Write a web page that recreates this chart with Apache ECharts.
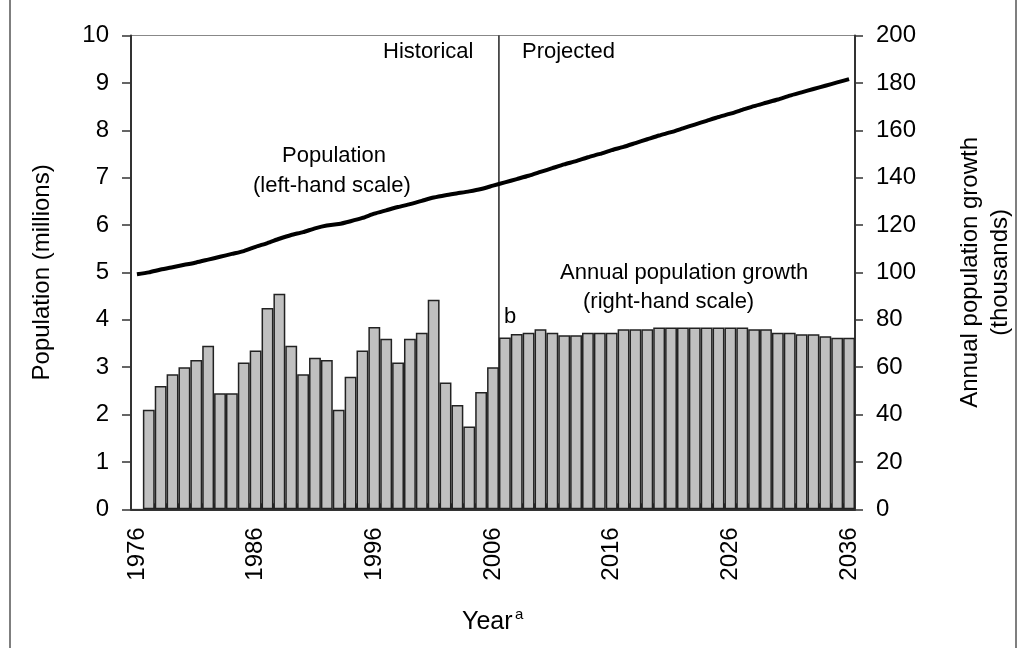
<!DOCTYPE html>
<html>
<head>
<meta charset="utf-8">
<script src="https://cdn.jsdelivr.net/npm/echarts@6/dist/echarts.min.js"></script>
<style>
html,body{margin:0;padding:0;background:#fff;}
#chart{width:1023px;height:648px;}
</style>
</head>
<body>
<div id="chart"></div>
<script>
const years = [];
for (let y = 1976; y <= 2036; y++) years.push(String(y));

const yearLabels = ['1976','1986','1996','2006','2016','2026','2036'];

// Population, millions (left-hand scale)
const population = [
  4.96, 5.00, 5.06, 5.11, 5.16, 5.21, 5.27, 5.33, 5.39, 5.45,
  5.54, 5.62, 5.71, 5.79, 5.85, 5.93, 5.99, 6.02, 6.08, 6.15,
  6.24, 6.31, 6.38, 6.44, 6.51, 6.58, 6.63, 6.67, 6.71, 6.76,
  6.83, 6.90, 6.97, 7.04, 7.12, 7.20, 7.28, 7.35, 7.43, 7.50,
  7.58, 7.65, 7.73, 7.81, 7.89, 7.96, 8.04, 8.12, 8.20, 8.28,
  8.35, 8.43, 8.51, 8.58, 8.65, 8.73, 8.80, 8.87, 8.94, 9.01,
  9.08
];

// Annual population growth, thousands (right-hand scale)
const growth = [
  null, 42, 52, 57, 60, 63, 69, 49, 49, 62,
  67, 85, 91, 69, 57, 64, 63, 42, 56, 67,
  77, 72, 62, 72, 74.5, 88.5, 53.5, 44, 35, 49.5,
  60, 72.5, 74, 74.5, 76, 74.5, 73.5, 73.5, 74.5, 74.5,
  74.5, 76, 76, 76, 76.7, 76.7, 76.7, 76.7, 76.7, 76.7,
  76.7, 76.7, 76, 76, 74.5, 74.5, 73.9, 73.9, 73.1, 72.4,
  72.4
];

// Boundary between historical and projected
const dividerYear = 2006.5;

const FONT = '"Liberation Sans", Arial, sans-serif';
const chart = echarts.init(document.getElementById('chart'));

chart.setOption({
  animation: false,
  backgroundColor: '#fff',
  grid: {
    left: 131, right: 163, top: 35.5, bottom: 138.7,
    show: true, borderColor: '#888', borderWidth: 1
  },
  xAxis: [
    {
      type: 'category',
      data: years,
      boundaryGap: true,
      axisLine: { lineStyle: { color: '#333', width: 2 } },
      axisTick: { show: true, inside: true, length: 6, interval: 0, lineStyle: { color: '#333' } },
      axisLabel: {
        rotate: 90,
        margin: 18,
        color: '#000',
        fontFamily: FONT,
        fontSize: 24,
        interval: (i, v) => yearLabels.indexOf(v) >= 0
      },
      splitLine: { show: false }
    },
    {
      type: 'value',
      min: 1975.5, max: 2036.5,
      show: false
    }
  ],
  yAxis: [
    {
      type: 'value',
      min: 0, max: 10, interval: 1,
      position: 'left',
      name: 'Population (millions)',
      nameLocation: 'middle',
      nameRotate: 90,
      nameGap: 77,
      nameTextStyle: { color: '#000', fontFamily: FONT, fontSize: 24 },
      axisLine: { show: true, lineStyle: { color: '#333', width: 2 } },
      axisTick: { show: true, length: 9, lineStyle: { color: '#333', width: 1.5 } },
      axisLabel: { color: '#000', fontFamily: FONT, fontSize: 24, margin: 22 },
      splitLine: { show: false }
    },
    {
      type: 'value',
      min: 0, max: 200, interval: 20,
      position: 'right',
      name: 'Annual population growth\n(thousands)',
      nameLocation: 'middle',
      nameRotate: 90,
      nameGap: 100,
      nameTextStyle: { color: '#000', fontFamily: FONT, fontSize: 24, lineHeight: 30 },
      axisLine: { show: true, lineStyle: { color: '#333', width: 2 } },
      axisTick: { show: true, length: 8, lineStyle: { color: '#333', width: 1.5 } },
      axisLabel: { color: '#000', fontFamily: FONT, fontSize: 24, margin: 21 },
      splitLine: { show: false }
    }
  ],
  series: [
    {
      type: 'line',
      xAxisIndex: 1,
      yAxisIndex: 0,
      data: [[dividerYear, 0], [dividerYear, 10]],
      symbol: 'none',
      lineStyle: { color: '#000', width: 1.3 },
      silent: true,
      z: 1
    },
    {
      type: 'bar',
      xAxisIndex: 0,
      yAxisIndex: 1,
      data: growth,
      barCategoryGap: '0%',
      itemStyle: { color: '#c0c0c0', borderColor: '#222', borderWidth: 1.5 },
      z: 2
    },
    {
      type: 'line',
      xAxisIndex: 0,
      yAxisIndex: 0,
      data: population,
      symbol: 'none',
      smooth: 0.2,
      lineStyle: { color: '#000', width: 4 },
      z: 3
    }
  ],
  graphic: [
    { type: 'rect', shape: { x: 10, y: -5, width: 1006, height: 700 },
      style: { fill: 'none', stroke: '#555', lineWidth: 1.5 }, silent: true },
    { type: 'text', left: 383, top: 41, style: { text: 'Historical', font: '22px ' + FONT, fill: '#000' } },
    { type: 'text', left: 522, top: 41, style: { text: 'Projected', font: '22px ' + FONT, fill: '#000' } },
    { type: 'text', left: 282, top: 145, style: { text: 'Population', font: '22px ' + FONT, fill: '#000' } },
    { type: 'text', left: 253, top: 175, style: { text: '(left-hand scale)', font: '22px ' + FONT, fill: '#000' } },
    { type: 'text', left: 560, top: 262, style: { text: 'Annual population growth', font: '22px ' + FONT, fill: '#000' } },
    { type: 'text', left: 583, top: 291, style: { text: '(right-hand scale)', font: '22px ' + FONT, fill: '#000' } },
    { type: 'text', left: 504, top: 306, style: { text: 'b', font: '22px ' + FONT, fill: '#000' } },
    { type: 'text', left: 462, top: 610, style: { text: 'Year', font: '25px ' + FONT, fill: '#000' } },
    { type: 'text', left: 515, top: 607, style: { text: 'a', font: '15px ' + FONT, fill: '#000' } }
  ]
});
</script>
</body>
</html>
